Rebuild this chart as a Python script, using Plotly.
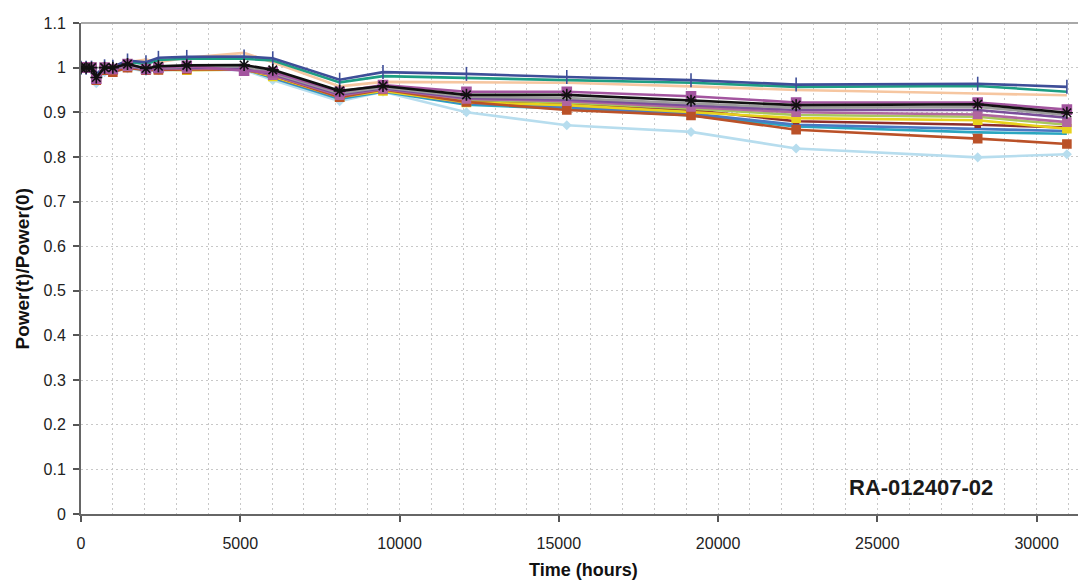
import plotly.graph_objects as go

hours = [0, 160, 330, 480, 740, 1000, 1460, 2040, 2430, 3320, 5120, 6020,
         8120, 9480, 12100, 15250, 19150, 22450, 28150, 30950]

s_navy = [1.0, 1.0, 1.0, 0.985, 1.003, 1.002, 1.016, 1.012, 1.022, 1.024, 1.025, 1.021,
          0.973, 0.990, 0.986, 0.979, 0.972, 0.962, 0.964, 0.957]
s_teal = [1.0, 1.0, 1.0, 0.982, 1.002, 1.0, 1.013, 1.008, 1.017, 1.020, 1.020, 1.016,
          0.967, 0.981, 0.977, 0.973, 0.966, 0.957, 0.959, 0.946]
s_peach = [1.0, 1.0, 1.0, 0.980, 1.002, 1.0, 1.012, 1.018, 1.012, 1.022, 1.033, 1.012,
           0.958, 0.968, 0.967, 0.966, 0.958, 0.950, 0.942, 0.938]
s_magenta = [1.0, 1.0, 1.0, 0.975, 1.0, 0.997, 1.008, 0.997, 1.0, 1.004, 0.993, 0.990,
             0.946, 0.961, 0.946, 0.946, 0.936, 0.922, 0.922, 0.906]
s_black = [1.0, 1.0, 1.0, 0.978, 1.0, 1.0, 1.008, 0.998, 1.003, 1.005, 1.006, 0.995,
           0.948, 0.959, 0.939, 0.939, 0.926, 0.916, 0.918, 0.899]
s_grey = [1.0, 1.0, 1.0, 0.977, 0.998, 0.998, 1.005, 0.998, 1.0, 1.002, 1.003, 0.988,
          0.943, 0.956, 0.935, 0.932, 0.920, 0.910, 0.912, 0.894]
s_purple = [1.0, 1.0, 1.0, 0.976, 0.998, 0.997, 1.004, 0.997, 0.999, 1.0, 1.0, 0.985,
            0.940, 0.954, 0.932, 0.928, 0.915, 0.905, 0.905, 0.888]
s_mauve = [1.0, 1.0, 1.0, 0.975, 0.997, 0.996, 1.003, 0.996, 0.998, 0.999, 0.998, 0.983,
           0.938, 0.952, 0.930, 0.925, 0.912, 0.900, 0.895, 0.878]
s_lgreen = [1.0, 1.0, 1.0, 0.976, 0.998, 0.996, 1.004, 0.997, 0.998, 0.998, 0.998, 0.982,
            0.937, 0.951, 0.928, 0.922, 0.908, 0.894, 0.890, 0.872]
s_yellow = [1.0, 1.0, 1.0, 0.974, 0.996, 0.994, 1.002, 0.995, 0.996, 0.994, 0.996, 0.980,
            0.934, 0.948, 0.922, 0.916, 0.900, 0.887, 0.882, 0.863]
s_darkred = [1.0, 1.0, 1.0, 0.975, 0.997, 0.995, 1.003, 0.996, 0.997, 0.997, 0.997, 0.980,
             0.935, 0.950, 0.925, 0.918, 0.905, 0.880, 0.872, 0.866]
s_blue = [1.0, 1.0, 1.0, 0.973, 0.996, 0.994, 1.002, 0.995, 0.997, 0.998, 0.998, 0.978,
          0.932, 0.948, 0.920, 0.912, 0.897, 0.872, 0.862, 0.858]
s_cyan = [1.0, 1.0, 1.0, 0.972, 0.995, 0.993, 1.001, 0.994, 0.996, 0.997, 0.997, 0.977,
          0.930, 0.946, 0.917, 0.908, 0.893, 0.868, 0.855, 0.852]
s_orange = [1.0, 1.0, 1.0, 0.972, 0.994, 0.990, 1.0, 0.994, 0.995, 0.996, 0.996, 0.983,
            0.934, 0.951, 0.923, 0.905, 0.893, 0.861, 0.841, 0.829]
s_skyblue = [1.0, 1.0, 1.0, 0.965, 0.990, 0.990, 0.998, 0.992, 0.994, 0.995, 0.995, 0.972,
             0.925, 0.946, 0.900, 0.871, 0.856, 0.819, 0.799, 0.806]

x_ticks = [0, 5000, 10000, 15000, 20000, 25000, 30000]
x_tick_labels = ["0", "5000", "10000", "15000", "20000", "25000", "30000"]
annotation_text = "RA-012407-02"
x_title = "Time (hours)"
y_title = "Power(t)/Power(0)"

# (values, colour, marker symbol, marker size)
series = [
    (s_skyblue, "#B7DDEE", "diamond", 6),
    (s_cyan, "#2AA6C0", None, 0),
    (s_blue, "#4A78C2", None, 0),
    (s_darkred, "#8E2F2B", "square", 5),
    (s_lgreen, "#A8C75E", None, 0),
    (s_yellow, "#E8D21C", "square", 8),
    (s_orange, "#BA5128", "square", 8),
    (s_mauve, "#B0669F", "square", 8),
    (s_purple, "#7A4F9A", None, 0),
    (s_grey, "#9C9C9C", None, 0),
    (s_peach, "#F6C6A0", None, 0),
    (s_teal, "#1E9E83", None, 0),
    (s_navy, "#3E4E98", "line-ns", 10),
    (s_magenta, "#A3559F", "square", 9),
    (s_black, "#111111", "asterisk", 10),
]

fig = go.Figure()
for vals, col, sym, size in series:
    if sym is None:
        fig.add_trace(go.Scatter(x=hours, y=vals, mode="lines",
                                 line=dict(color=col, width=2.6), showlegend=False,
                                 hoverinfo="skip"))
    else:
        fig.add_trace(go.Scatter(x=hours, y=vals, mode="lines+markers",
                                 line=dict(color=col, width=2.6),
                                 marker=dict(symbol=sym, size=size, color=col,
                                             line=dict(color=col, width=1.6)),
                                 showlegend=False, hoverinfo="skip"))

font_family = "Liberation Sans, Arial, sans-serif"

# The page body has an 8px margin; the figure is sized so that it ends at the window edge.
OFF = 8
W, H = 1086 - OFF, 580 - OFF
L, R, T, B = 81 - OFF, 0, 23 - OFF, H - (514 - OFF)
plot_w = W - L - R
plot_h = H - T - B


def px_to_paper_x(px):
    return (px - OFF - L) / plot_w


def px_to_paper_y(py):
    return (H - B - (py - OFF)) / plot_h


GRID = "#C8C8C8"
DASH = "2px,3px"

fig.update_layout(
    width=W, height=H,
    margin=dict(l=L, r=R, t=T, b=B, autoexpand=False),
    paper_bgcolor="white", plot_bgcolor="white",
    font=dict(family=font_family, size=16, color="#222"),
    xaxis=dict(
        range=[0, 31550], tickvals=x_ticks, ticktext=x_tick_labels,
        ticks="outside", ticklen=6, tickcolor="#555", tickwidth=1.5,
        showline=True, linecolor="#666", linewidth=2,
        showgrid=True, gridcolor=GRID, griddash=DASH, gridwidth=1,
        minor=dict(dtick=1000, tick0=0, showgrid=True, gridcolor=GRID,
                   griddash=DASH, gridwidth=1),
        zeroline=False, ticklabelstandoff=8, automargin=False,
        tickfont=dict(size=16, color="#222"),
    ),
    yaxis=dict(
        range=[0, 1.1], dtick=0.1, tick0=0, ticks="outside", ticklen=6,
        tickcolor="#555", tickwidth=1.5,
        showline=True, linecolor="#666", linewidth=2,
        showgrid=True, gridcolor=GRID, griddash=DASH, gridwidth=1,
        zeroline=False, ticklabelstandoff=4, automargin=False,
        tickfont=dict(size=16, color="#222"),
    ),
    shapes=[dict(type="line", xref="paper", yref="paper", x0=0, x1=1, y0=1, y1=1,
                 line=dict(color="#A8A8A8", width=2))],
    annotations=[
        dict(text="<b>" + annotation_text + "</b>",
             x=px_to_paper_x(921), xref="paper", y=px_to_paper_y(487), yref="paper",
             showarrow=False, font=dict(size=22, color="#1a1a1a", family=font_family),
             xanchor="center", yanchor="middle"),
        dict(text="<b>" + x_title + "</b>", x=0.5, xref="paper",
             y=px_to_paper_y(570), yref="paper",
             showarrow=False, font=dict(size=18, color="#111"), xanchor="center",
             yanchor="middle"),
        dict(text="<b>" + y_title + "</b>", x=px_to_paper_x(22), xref="paper",
             y=0.5, yref="paper",
             showarrow=False, font=dict(size=19, color="#111"), textangle=-90,
             xanchor="center", yanchor="middle"),
    ],
)

fig.write_html("out.html")
